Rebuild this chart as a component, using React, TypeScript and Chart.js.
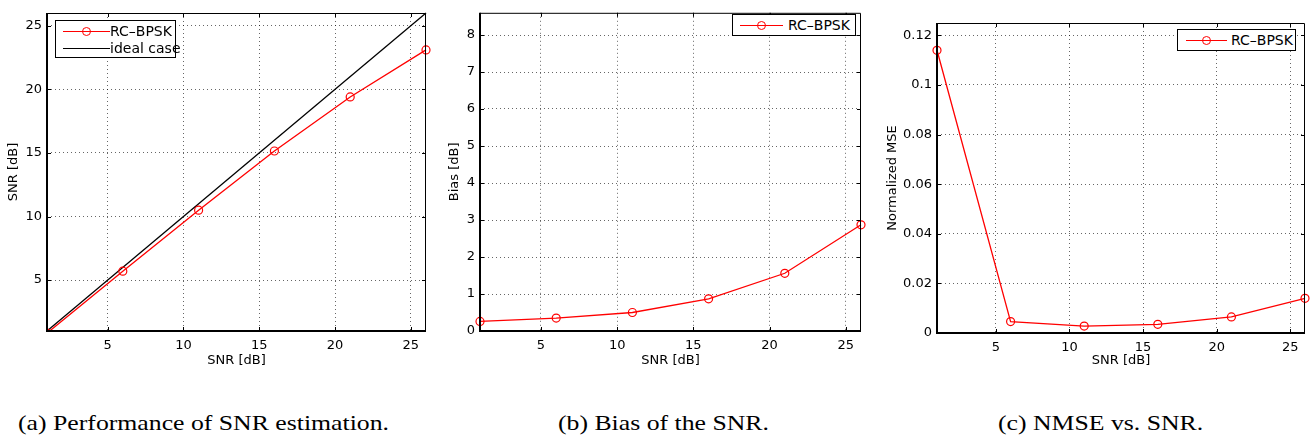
import React, { useEffect, useRef } from "react";
import { Chart, registerables } from "chart.js";

Chart.register(...registerables);

// ---- data ----
const snrIn = [1, 6, 11, 16, 21, 26];
const snrEstimated = [0.83, 5.7, 10.5, 15.15, 19.4, 23.1];
const idealX = [1, 26];
const idealY = [1, 26];
const biasDb = [0.26, 0.35, 0.5, 0.87, 1.56, 2.87];
const nmse = [0.114, 0.0046, 0.0028, 0.0035, 0.0065, 0.014];

const xTicks = [5, 10, 15, 20, 25];
const yTicksA = [5, 10, 15, 20, 25];
const yTicksB = [0, 1, 2, 3, 4, 5, 6, 7, 8];
const yTicksC = [0, 0.02, 0.04, 0.06, 0.08, 0.1, 0.12];

const seriesName = "RC–BPSK";
const idealName = "ideal case";
const xTitle = "SNR [dB]";
const yTitleA = "SNR [dB]";
const yTitleB = "Bias [dB]";
const yTitleC = "Normalized MSE";
const captionA = "(a) Performance of SNR estimation.";
const captionB = "(b) Bias of the SNR.";
const captionC = "(c) NMSE vs. SNR.";

const RED = "#ff0000";
const SANS = "'DejaVu Sans', 'Liberation Sans', Arial, sans-serif";
const tickFont = { family: SANS, size: 13 };
const titleFont = { family: SANS, size: 13 };
const gridColor = "rgba(0,0,0,0.6)";

const framePlugin = {
  id: "matlabFrame",
  afterDraw(chart: any) {
    const { ctx, chartArea, scales } = chart;
    const { left, right, top, bottom } = chartArea;
    const xs = scales.x;
    const ys = scales.y;
    ctx.save();
    ctx.strokeStyle = "#000";
    ctx.setLineDash([]);
    ctx.lineWidth = 1;
    ctx.beginPath();
    ctx.moveTo(left, top + 0.5);
    ctx.lineTo(right - 0.5, top + 0.5);
    ctx.lineTo(right - 0.5, bottom);
    ctx.stroke();
    ctx.lineWidth = 2;
    ctx.beginPath();
    ctx.moveTo(left, top);
    ctx.lineTo(left, bottom);
    ctx.lineTo(right, bottom);
    ctx.stroke();
    ctx.lineWidth = 1;
    const L = 4;
    ctx.beginPath();
    xs.ticks.forEach((t: any) => {
      const px = Math.round(xs.getPixelForValue(t.value)) + 0.5;
      ctx.moveTo(px, bottom);
      ctx.lineTo(px, bottom - L);
      ctx.moveTo(px, top);
      ctx.lineTo(px, top + L);
    });
    ys.ticks.forEach((t: any) => {
      const py = Math.round(ys.getPixelForValue(t.value)) + 0.5;
      ctx.moveTo(left, py);
      ctx.lineTo(left + L, py);
      ctx.moveTo(right, py);
      ctx.lineTo(right - L, py);
    });
    ctx.stroke();
    ctx.restore();
  },
};

type PanelProps = {
  left: number;
  width: number;
  height: number;
  padTop: number;
  padRight: number;
  yAxisWidth: number;
  xAxisHeight: number;
  yMin: number;
  yMax: number;
  yTicks: number[];
  yTitle: string;
  yTitlePad: number;
  datasets: any[];
};

function Panel(p: PanelProps) {
  const ref = useRef<HTMLCanvasElement | null>(null);
  useEffect(() => {
    if (!ref.current) return;
    const chart = new Chart(ref.current, {
      type: "line",
      data: { datasets: p.datasets },
      plugins: [framePlugin],
      options: {
        animation: false,
        responsive: false,
        maintainAspectRatio: false,
        events: [],
        layout: { padding: { left: 0, right: p.padRight, top: p.padTop, bottom: 0 } },
        plugins: { legend: { display: false }, tooltip: { enabled: false } },
        scales: {
          x: {
            type: "linear",
            min: 1,
            max: 26,
            afterBuildTicks: (s: any) => {
              s.ticks = xTicks.map((v) => ({ value: v }));
            },
            afterFit: (s: any) => {
              s.height = p.xAxisHeight;
            },
            grid: { color: gridColor, lineWidth: 1, drawTicks: false },
            border: { display: false, dash: [1, 3] },
            ticks: {
              color: "#000",
              font: tickFont,
              padding: 7,
              maxRotation: 0,
              autoSkip: false,
              callback: (v: any) => String(v),
            },
            title: { display: true, text: xTitle, color: "#000", font: titleFont, padding: 0 },
          },
          y: {
            type: "linear",
            min: p.yMin,
            max: p.yMax,
            afterBuildTicks: (s: any) => {
              s.ticks = p.yTicks.map((v) => ({ value: v }));
            },
            afterFit: (s: any) => {
              s.width = p.yAxisWidth;
            },
            grid: { color: gridColor, lineWidth: 1, drawTicks: false },
            border: { display: false, dash: [1, 3] },
            ticks: {
              color: "#000",
              font: tickFont,
              padding: 5,
              autoSkip: false,
              callback: (v: any) => String(v),
            },
            title: {
              display: true,
              text: p.yTitle,
              color: "#000",
              font: titleFont,
              padding: { top: p.yTitlePad, bottom: 0 },
            },
          },
        },
      } as any,
    });
    return () => chart.destroy();
  }, []);
  return (
    <canvas
      ref={ref}
      width={p.width}
      height={p.height}
      style={{ position: "absolute", left: p.left, top: 0, width: p.width, height: p.height }}
    />
  );
}

const redSeries = (ys: number[], clip: any) => ({
  label: seriesName,
  data: snrIn.map((x, i) => ({ x, y: ys[i] })),
  borderColor: RED,
  borderWidth: 1.3,
  pointRadius: 4,
  pointStyle: "circle",
  pointBorderColor: RED,
  pointBackgroundColor: "rgba(0,0,0,0)",
  pointBorderWidth: 1.2,
  tension: 0,
  clip,
});

const idealSeries = {
  label: idealName,
  data: idealX.map((x, i) => ({ x, y: idealY[i] })),
  borderColor: "#000",
  borderWidth: 1.3,
  pointRadius: 0,
  tension: 0,
  clip: false,
};

function LegendRow(props: { y: number; x1: number; x2: number; marker: boolean; color: string; text: string; textX: number }) {
  const { y, x1, x2, marker, color, text, textX } = props;
  const cx = (x1 + x2) / 2;
  return (
    <>
      <div style={{ position: "absolute", left: x1, top: y - 0.5, width: x2 - x1, height: 1.3, background: color }} />
      {marker && (
        <div
          style={{
            position: "absolute",
            left: cx - 4.5,
            top: y - 4.5,
            width: 9,
            height: 9,
            boxSizing: "border-box",
            border: `1.2px solid ${color}`,
            borderRadius: "50%",
          }}
        />
      )}
      <div
        style={{
          position: "absolute",
          left: textX,
          top: y - 9,
          height: 18,
          lineHeight: "18px",
          fontFamily: SANS,
          fontSize: 14,
          color: "#000",
          whiteSpace: "nowrap",
        }}
      >
        {text}
      </div>
    </>
  );
}

function Box(props: { left: number; top: number; width: number; height: number }) {
  return (
    <div
      style={{
        position: "absolute",
        left: props.left,
        top: props.top,
        width: props.width,
        height: props.height,
        boxSizing: "border-box",
        border: "1px solid #000",
        background: "#fff",
      }}
    />
  );
}

function Caption(props: { left: number; text: string }) {
  return (
    <div
      style={{
        position: "absolute",
        left: props.left,
        top: 411,
        height: 24,
        lineHeight: "24px",
        fontFamily: "'Liberation Serif', 'Times New Roman', serif",
        fontSize: 22,
        color: "#000",
        whiteSpace: "nowrap",
        transform: "scaleX(1.17)",
        transformOrigin: "left center",
      }}
    >
      {props.text}
    </div>
  );
}

export default function App() {
  return (
    <div style={{ position: "absolute", left: 0, top: 0, width: 1316, height: 441, background: "#fff", overflow: "hidden" }}>
      <Panel
        left={0}
        width={436}
        height={368}
        padTop={13}
        padRight={10}
        yAxisWidth={47}
        xAxisHeight={37}
        yMin={1}
        yMax={26}
        yTicks={yTicksA}
        yTitle={yTitleA}
        yTitlePad={6}
        datasets={[redSeries(snrEstimated, { left: 0, right: 6, top: 6, bottom: 0 }), idealSeries]}
      />
      <Panel
        left={440}
        width={431}
        height={368}
        padTop={8}
        padRight={10}
        yAxisWidth={40}
        xAxisHeight={37}
        yMin={0}
        yMax={8.6}
        yTicks={yTicksB}
        yTitle={yTitleB}
        yTitlePad={7}
        datasets={[redSeries(biasDb, false)]}
      />
      <Panel
        left={880}
        width={435}
        height={368}
        padTop={23}
        padRight={10}
        yAxisWidth={57}
        xAxisHeight={35}
        yMin={0}
        yMax={0.125}
        yTicks={yTicksC}
        yTitle={yTitleC}
        yTitlePad={5}
        datasets={[redSeries(nmse, false)]}
      />

      <Box left={55} top={20} width={121} height={38} />
      <LegendRow y={31} x1={63} x2={110} marker={true} color={RED} text={seriesName} textX={110} />
      <LegendRow y={48} x1={63} x2={110} marker={false} color="#000" text={idealName} textX={110} />

      <Box left={732} top={14} width={124} height={22} />
      <LegendRow y={25} x1={740} x2={783} marker={true} color={RED} text={seriesName} textX={788} />

      <Box left={1177} top={29} width={119} height={22} />
      <LegendRow y={40} x1={1186} x2={1227} marker={true} color={RED} text={seriesName} textX={1231} />

      <Caption left={18} text={captionA} />
      <Caption left={558} text={captionB} />
      <Caption left={998} text={captionC} />
    </div>
  );
}
